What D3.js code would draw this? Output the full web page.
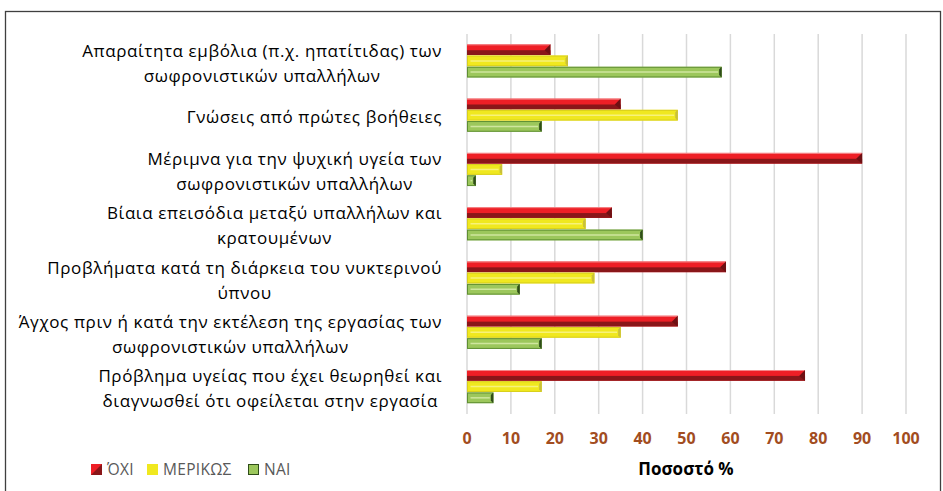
<!DOCTYPE html>
<html>
<head>
<meta charset="utf-8">
<script src="https://cdn.jsdelivr.net/npm/d3@7"></script>
<style>
  body { margin: 0; background: #fff; }
  text { font-family: "Open Sans", "Noto Sans", sans-serif; }
</style>
</head>
<body>
<div id="chart"></div>
<script>
// categories, top to bottom, each split into its wrapped lines
let categories = [
    ["Απαραίτητα εμβόλια (π.χ. ηπατίτιδας) των", "σωφρονιστικών υπαλλήλων"],
    ["Γνώσεις από πρώτες βοήθειες"],
    ["Μέριμνα για την ψυχική υγεία των", "σωφρονιστικών υπαλλήλων"],
    ["Βίαια επεισόδια μεταξύ υπαλλήλων και", "κρατουμένων"],
    ["Προβλήματα κατά τη διάρκεια του νυκτερινού", "ύπνου"],
    ["Άγχος πριν ή κατά την εκτέλεση της εργασίας των", "σωφρονιστικών υπαλλήλων"],
    ["Πρόβλημα υγείας που έχει θεωρηθεί και", "διαγνωσθεί ότι οφείλεται στην εργασία"]
];
let series = ["ΌΧΙ", "ΜΕΡΙΚΩΣ", "ΝΑΙ"];
let valuesOxi = [19, 35, 90, 33, 59, 48, 77];
let valuesMerikos = [23, 48, 8, 27, 29, 35, 17];
let valuesNai = [58, 17, 2, 40, 12, 17, 6];
let xTicks = [0, 10, 20, 30, 40, 50, 60, 70, 80, 90, 100];
let xTitle = "Ποσοστό %";

const width = 943, height = 491;
const plot = {left: 467, right: 906, top: 34, bottom: 414};

// colours per series: main, dark, light, edge
const palette = {
    "ΌΧΙ":     {main: "#ee1f26", dark: "#8a1619", light: "#f58a8c", edge: "#6e1013"},
    "ΜΕΡΙΚΩΣ": {main: "#f0e81f", dark: "#d8cf1c", light: "#f7f27a", edge: "#c9c03a"},
    "ΝΑΙ":     {main: "#9cc75c", dark: "#5f8f33", light: "#cfe69e", edge: "#2f4d19"}
};

let data = categories.map((c, i) => ({
    lines: c,
    values: [valuesOxi[i], valuesMerikos[i], valuesNai[i]]
}));

let svg = d3.select("#chart").append("svg")
    .attr("width", width)
    .attr("height", height);

// outer frame
svg.append("rect")
    .attr("x", 5.5).attr("y", 11.5)
    .attr("width", 935).attr("height", 490)
    .attr("fill", "#fff")
    .attr("stroke", "#3f3f3f")
    .attr("stroke-width", 1.3);

let xScale = d3.scaleLinear().domain([0, 100]).range([plot.left, plot.right]);
let yScale = d3.scaleBand()
    .domain(d3.range(categories.length))
    .range([plot.top, plot.bottom])
    .paddingInner(0.38).paddingOuter(0.19);
let ySub = d3.scaleBand().domain(series).range([0, yScale.bandwidth()]);

// gridlines
svg.append("g")
    .selectAll("line")
    .data(xTicks)
    .join("line")
    .attr("x1", d => xScale(d)).attr("x2", d => xScale(d))
    .attr("y1", plot.top).attr("y2", plot.bottom)
    .attr("stroke", "#d9d9d9")
    .attr("stroke-width", 1.5);

// tick labels
svg.append("g")
    .selectAll("text")
    .data(xTicks)
    .join("text")
    .attr("x", d => xScale(d))
    .attr("y", 438)
    .attr("dy", "0.35em")
    .attr("text-anchor", "middle")
    .attr("font-size", 16)
    .attr("font-weight", "bold")
    .attr("fill", "#a24d1f")
    .text(d => d);

svg.append("text")
    .attr("x", 686).attr("y", 469)
    .attr("dy", "0.35em")
    .attr("text-anchor", "middle")
    .attr("font-size", 17)
    .attr("font-weight", "bold")
    .attr("fill", "#000")
    .text(xTitle);

// bars with a bevelled look
let groups = svg.append("g")
    .selectAll("g")
    .data(data)
    .join("g")
    .attr("transform", (d, i) => "translate(0," + yScale(i) + ")");

groups.each(function (d) {
    let g = d3.select(this);
    series.forEach((s, k) => {
        let c = palette[s];
        let x0 = xScale(0), x1 = xScale(d.values[k]);
        let y0 = ySub(s), h = ySub.bandwidth() - 0.5;
        let w = x1 - x0;
        let b = Math.min(2.5, w / 3);
        g.append("rect")
            .attr("x", x0).attr("y", y0)
            .attr("width", w).attr("height", h)
            .attr("fill", c.main);
        if (s === "ΌΧΙ") {
            // lower half darker
            g.append("rect")
                .attr("x", x0).attr("y", y0 + h * 0.55)
                .attr("width", w).attr("height", h * 0.45)
                .attr("fill", c.dark);
            g.append("line")
                .attr("x1", x0).attr("x2", x1)
                .attr("y1", y0 + 0.5).attr("y2", y0 + 0.5)
                .attr("stroke", c.light).attr("stroke-width", 1);
            g.append("path")
                .attr("d", `M${x1},${y0} L${x1},${y0 + h} L${x1 - h * 0.55},${y0 + h * 0.55} Z`)
                .attr("fill", c.edge);
        } else {
            g.append("rect")
                .attr("x", x0 + 0.5).attr("y", y0 + 0.5)
                .attr("width", Math.max(0, w - 1)).attr("height", h - 1)
                .attr("fill", "none")
                .attr("stroke", c.dark).attr("stroke-width", 1);
            g.append("line")
                .attr("x1", x0 + b + 1).attr("x2", Math.max(x0 + b + 1, x1 - b - 1))
                .attr("y1", y0 + h / 2).attr("y2", y0 + h / 2)
                .attr("stroke", c.light).attr("stroke-width", 1.5);
            g.append("path")
                .attr("d", `M${x1},${y0} L${x1},${y0 + h} L${x1 - b},${y0 + h - b} L${x1 - b},${y0 + b} Z`)
                .attr("fill", c.edge);
        }
    });
});

// category labels: lines centred within a block that is right-aligned
const labelRight = 442, lineH = 25;
let labels = svg.append("g")
    .selectAll("g")
    .data(data)
    .join("g");

labels.each(function (d, i) {
    let g = d3.select(this);
    let cy = yScale(i) + yScale.bandwidth() / 2 + 2;
    let texts = g.selectAll("text")
        .data(d.lines)
        .join("text")
        .attr("font-size", 17)
        .attr("letter-spacing", 0.6)
        .attr("fill", "#000")
        .attr("text-anchor", "middle")
        .text(t => t);
    let maxW = d3.max(texts.nodes(), n => n.getComputedTextLength());
    let cx = labelRight - maxW / 2;
    let n = d.lines.length;
    texts.attr("x", cx)
        .attr("y", (t, j) => cy + (j - (n - 1) / 2) * lineH)
        .attr("dy", "0.35em");
});

// legend
let legendX = [91, 147, 248];
let legend = svg.append("g")
    .selectAll("g")
    .data(series)
    .join("g")
    .attr("transform", (d, i) => "translate(" + legendX[i] + ",464)");

legend.append("rect")
    .attr("width", 11).attr("height", 11)
    .attr("fill", d => palette[d].main);
legend.filter(d => d === "ΌΧΙ").append("path")
    .attr("d", "M0,11 L11,0 L11,11 Z")
    .attr("fill", palette["ΌΧΙ"].dark);
legend.filter(d => d === "ΝΑΙ").append("rect")
    .attr("x", 0.5).attr("y", 0.5).attr("width", 10).attr("height", 10)
    .attr("fill", "none").attr("stroke", palette["ΝΑΙ"].edge);
legend.append("text")
    .attr("x", 16).attr("y", 5.5)
    .attr("dy", "0.35em")
    .attr("font-size", 15.5)
    .attr("letter-spacing", 0.3)
    .attr("fill", "#595959")
    .text(d => d);
</script>
</body>
</html>
